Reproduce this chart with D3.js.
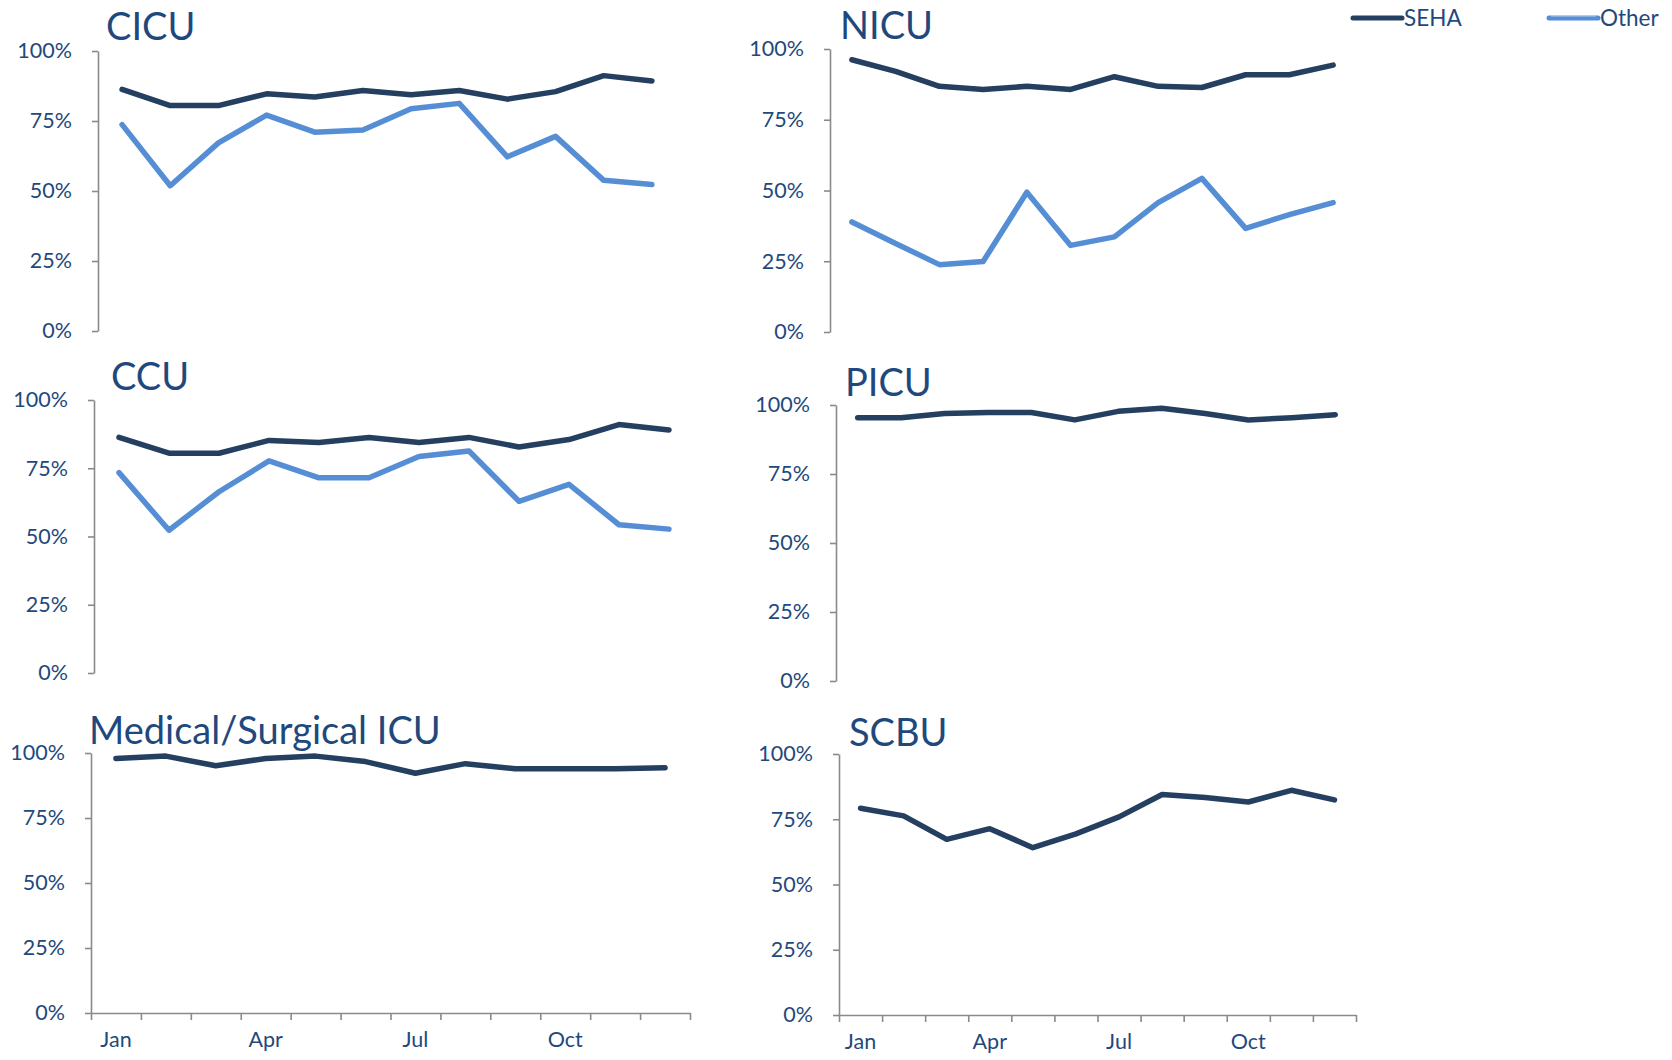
<!DOCTYPE html>
<html>
<head>
<meta charset="utf-8">
<script src="https://cdn.jsdelivr.net/npm/d3@7"></script>
<style>
body { margin: 0; background: #fff; }
text { font-family: Lato, "Open Sans", sans-serif; }
</style>
</head>
<body>
<script>

// data, percent per month
var months = ["Jan","Feb","Mar","Apr","May","Jun","Jul","Aug","Sep","Oct","Nov","Dec"];
var xLabels = ["Jan","Apr","Jul","Oct"];
var yTicks = [0,25,50,75,100];
var seriesNames = ["SEHA","Other"];

var cicuSeha  = [86.3,80.5,80.5,84.7,83.6,85.9,84.4,85.9,82.8,85.5,91.2,89.3];
var cicuOther = [73.7,51.9,67.2,77.1,71.0,71.8,79.4,81.3,62.2,69.5,53.8,52.3];
var nicuSeha  = [96.2,92.1,86.8,85.7,86.8,85.7,90.2,86.8,86.4,90.9,90.9,94.3];
var nicuOther = [38.9,31.3,23.8,24.9,49.4,30.6,33.6,45.7,54.3,36.6,41.5,45.7];
var ccuSeha   = [86.3,80.5,80.5,85.2,84.4,86.3,84.4,86.3,82.8,85.5,91.0,89.0];
var ccuOther  = [73.4,52.3,66.4,77.7,71.5,71.5,79.3,81.3,62.9,69.1,54.3,52.7];
var picuSeha  = [95.4,95.4,96.9,97.3,97.3,94.6,97.7,98.8,96.9,94.6,95.4,96.5];
var msicuSeha = [97.9,98.8,95.1,97.9,98.8,96.7,92.2,95.9,93.9,93.9,93.9,94.3];
var scbuSeha  = [79.2,76.3,67.3,71.4,64.1,69.4,75.9,84.5,83.3,81.6,86.1,82.4];

var colors = {SEHA: "#243F60", Other: "#558ED5"};
var textColor = "#1F497D";
var axisColor = "#8a8a8a";

var svg = d3.select('body').append('svg')
    .attr('width', 1672)
    .attr('height', 1060);

// layout of the six small panels
var panels = [
  {name: "CICU", seha: cicuSeha, other: cicuOther, left: 98, width: 578, top: 51, bottom: 331, tx: 106, ty: 40, xaxis: false},
  {name: "NICU", seha: nicuSeha, other: nicuOther, left: 830, width: 525, top: 49, bottom: 332, tx: 840, ty: 39, xaxis: false},
  {name: "CCU", seha: ccuSeha, other: ccuOther, left: 94, width: 600, top: 400, bottom: 673, tx: 111, ty: 390, xaxis: false},
  {name: "PICU", seha: picuSeha, other: null, left: 836, width: 521, top: 405, bottom: 681, tx: 845, ty: 396, xaxis: false},
  {name: "Medical/Surgical ICU", seha: msicuSeha, other: null, left: 91, width: 599, top: 753, bottom: 1013, tx: 89, ty: 744, xaxis: true},
  {name: "SCBU", seha: scbuSeha, other: null, left: 839, width: 517, top: 754, bottom: 1015, tx: 849, ty: 746, xaxis: true}
];

function drawPanel(p) {
  var g = svg.append('g').attr('class', 'panel');

  var x = d3.scaleBand().domain(months).range([p.left, p.left + p.width]);
  var y = d3.scaleLinear().domain([0, 100]).range([p.bottom, p.top]);

  var yAxis = g.append('g')
      .attr('transform', 'translate(' + p.left + ',0)')
      .call(d3.axisLeft(y).tickValues(yTicks).tickFormat(function(d) { return d + '%'; })
            .tickSize(6).tickSizeOuter(0).tickPadding(20));
  yAxis.select('.domain').attr('stroke', axisColor).attr('stroke-width', 1.6);
  yAxis.selectAll('.tick line').attr('stroke', axisColor).attr('stroke-width', 1.6);
  yAxis.selectAll('.tick text').attr('fill', textColor).attr('font-size', 21.5);

  if (p.xaxis) {
    var xt = d3.scaleLinear().domain([0, 12]).range([p.left, p.left + p.width]);
    var xAxis = g.append('g')
        .attr('transform', 'translate(0,' + p.bottom + ')')
        .call(d3.axisBottom(xt).tickValues(d3.range(13)).tickFormat('').tickSize(7).tickSizeOuter(0));
    xAxis.select('.domain').attr('stroke', axisColor).attr('stroke-width', 1.6);
    xAxis.selectAll('.tick line').attr('stroke', axisColor).attr('stroke-width', 1.6);

    var xLab = g.append('g')
        .attr('transform', 'translate(0,' + p.bottom + ')')
        .call(d3.axisBottom(x).tickValues(xLabels).tickSize(0).tickPadding(19));
    xLab.select('.domain').remove();
    xLab.selectAll('.tick text').attr('fill', textColor).attr('font-size', 21.5);
  }

  var line = d3.line()
      .x(function(d, i) { return x(months[i]) + x.bandwidth() / 2; })
      .y(function(d) { return y(d); });

  if (p.other) {
    g.append('path')
        .datum(p.other)
        .attr('d', line)
        .attr('fill', 'none')
        .attr('stroke', colors.Other)
        .attr('stroke-width', 5.5)
        .attr('stroke-linejoin', 'round')
        .attr('stroke-linecap', 'round');
  }
  g.append('path')
      .datum(p.seha)
      .attr('d', line)
      .attr('fill', 'none')
      .attr('stroke', colors.SEHA)
      .attr('stroke-width', 5.5)
      .attr('stroke-linejoin', 'round')
      .attr('stroke-linecap', 'round');

  g.append('text')
      .attr('x', p.tx)
      .attr('y', p.ty)
      .attr('fill', textColor)
      .attr('font-size', 38)
      .text(p.name);
}

panels.forEach(drawPanel);

// legend, top right
var legX = [1353, 1549];
var leg = svg.selectAll('.leg')
    .data(seriesNames)
    .enter().append('g')
    .attr('class', 'leg')
    .attr('transform', function(d, i) { return 'translate(' + legX[i] + ',18)'; });

leg.append('line')
    .attr('x1', 0).attr('x2', 49)
    .attr('stroke', function(d) { return colors[d]; })
    .attr('stroke-width', 5)
    .attr('stroke-linecap', 'round');

leg.filter(function(d) { return d == "Other"; }).append('line')
    .attr('x1', 2).attr('x2', 47).attr('y1', -2).attr('y2', -2)
    .attr('stroke', '#b9d0ee')
    .attr('stroke-width', 1.2);

leg.append('text')
    .attr('x', 51)
    .attr('y', 8)
    .attr('fill', textColor)
    .attr('font-size', 22.5)
    .text(function(d) { return d; });

</script>
</body>
</html>
